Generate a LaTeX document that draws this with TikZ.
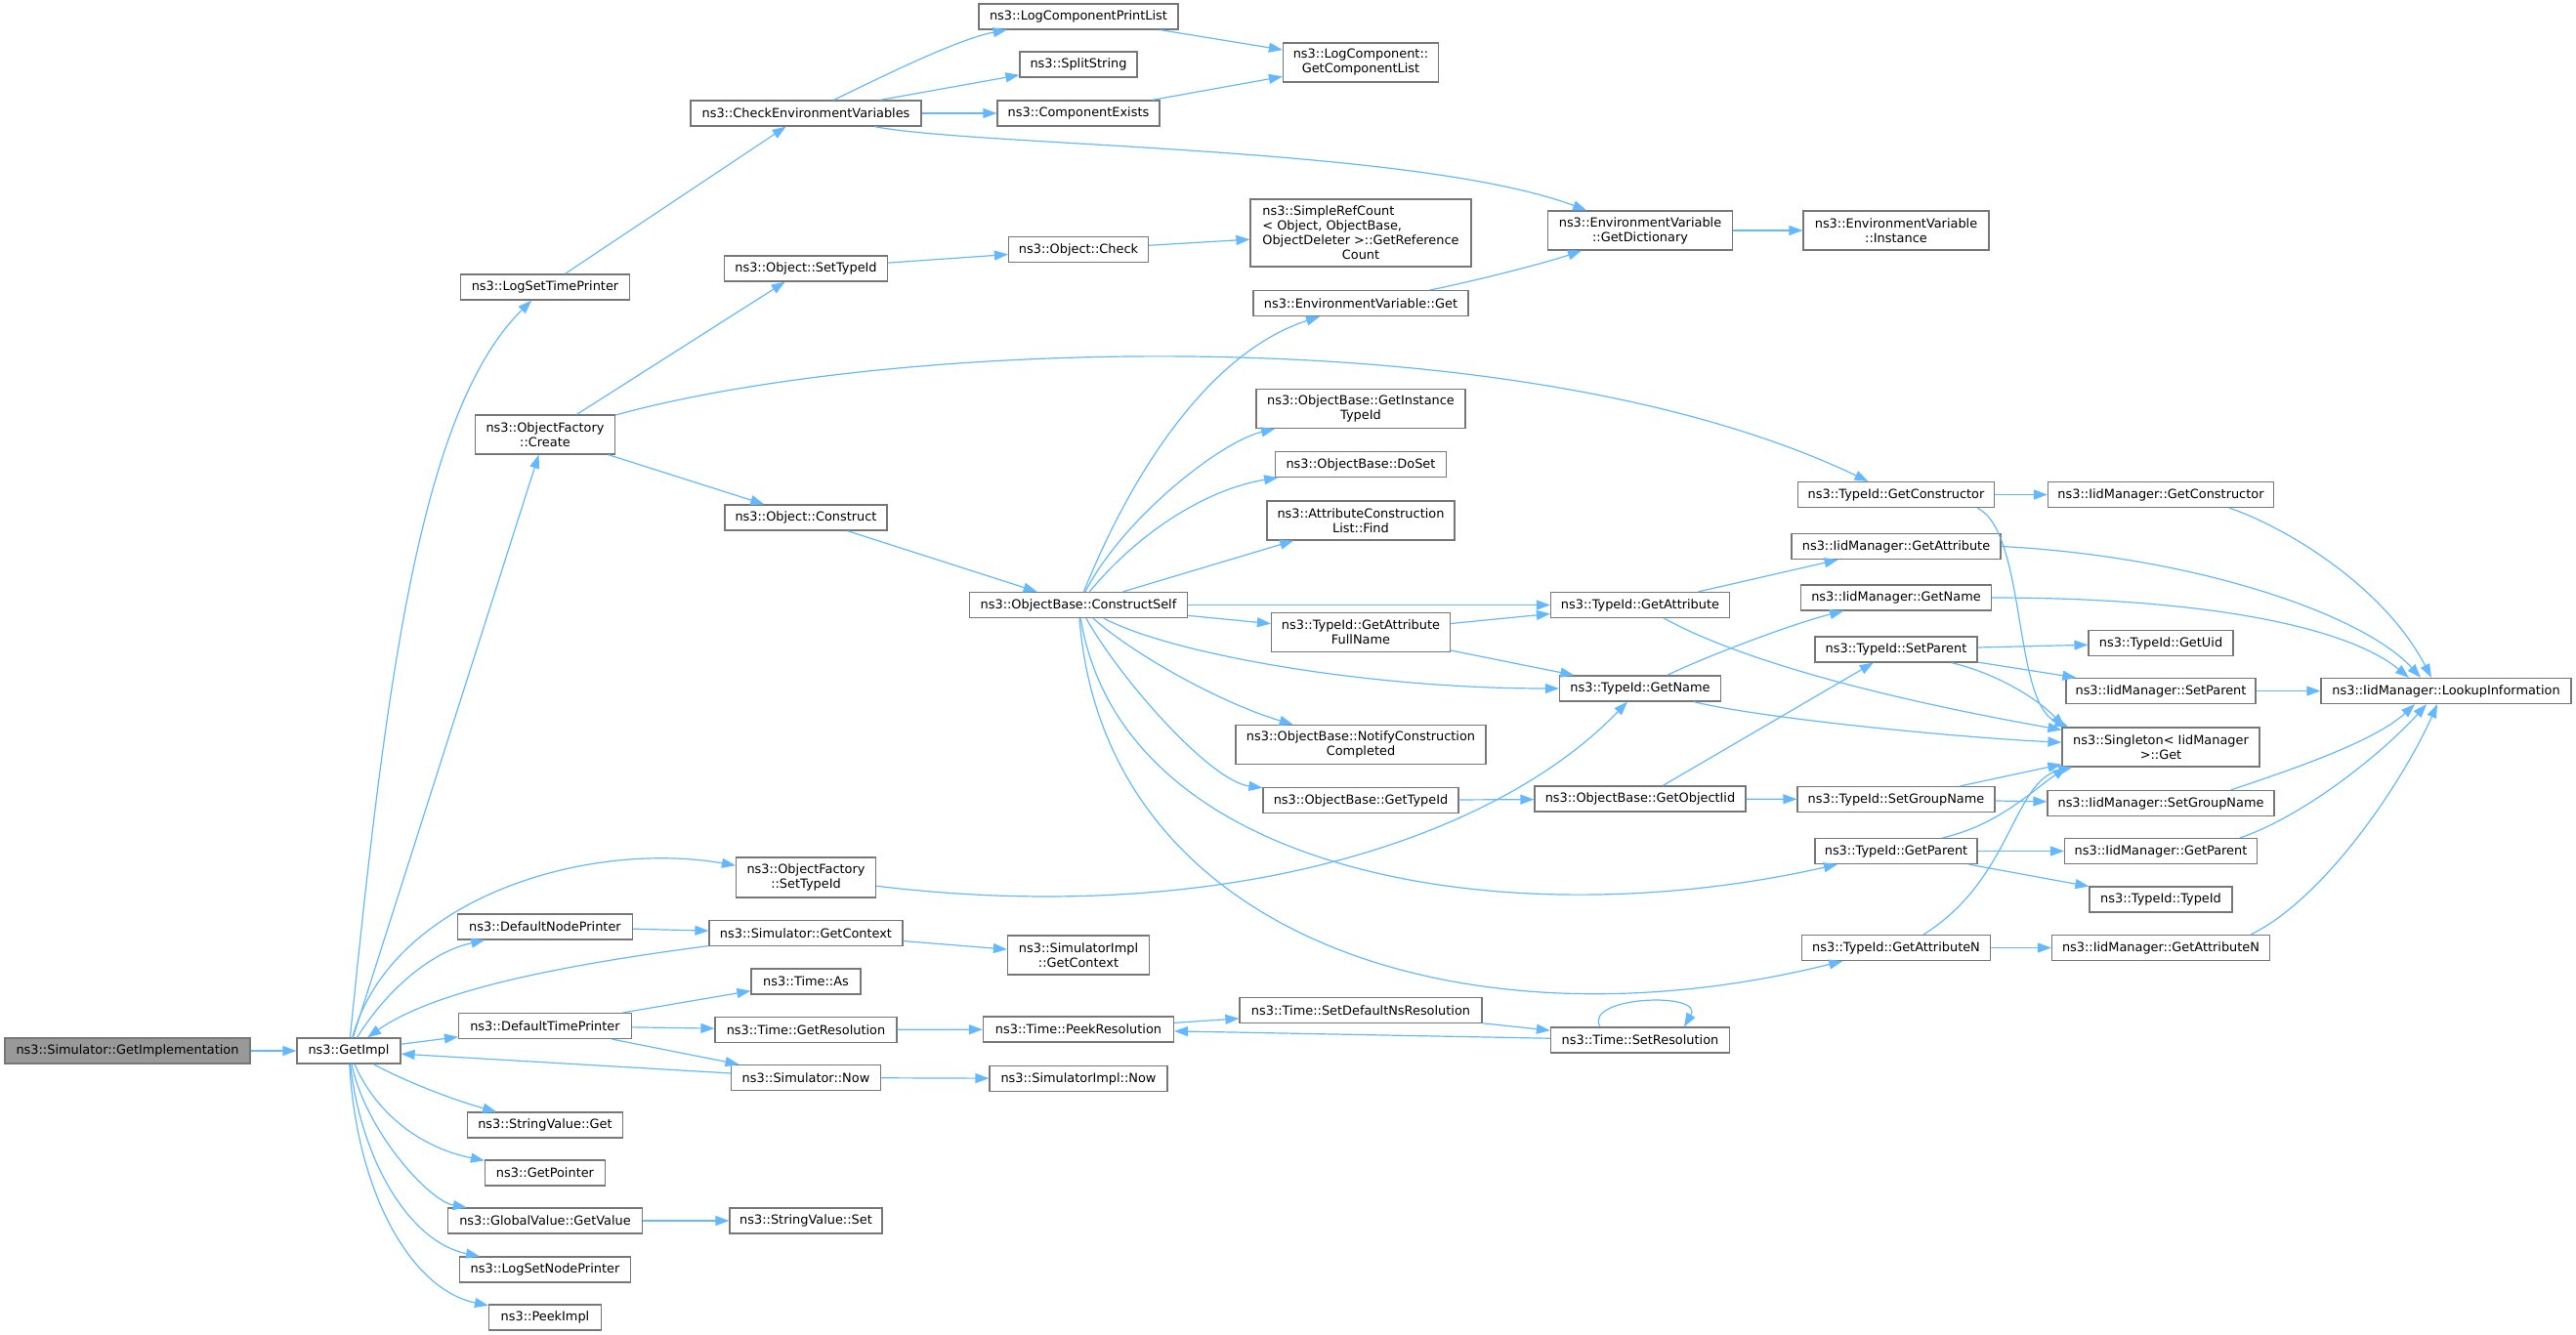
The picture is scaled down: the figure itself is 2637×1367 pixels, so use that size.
\documentclass[tikz,border=0pt]{standalone}
\usepackage{fontspec}
\setmainfont{DejaVu Sans}
\usetikzlibrary{arrows.meta}
\definecolor{edgec}{HTML}{63B8FF}
\definecolor{boxc}{HTML}{777777}
\definecolor{rootc}{HTML}{999999}
\newcommand\nfont{\fontsize{12.9}{15}\selectfont}
\newlength\srcw
\begin{document}
\settowidth{\srcw}{\nfont ObjectDeleter >::GetReference}%
\begin{tikzpicture}[x=1pt,y=-1pt,
  box/.style={draw=boxc,line width=1.2pt,fill=white,rectangle,inner sep=0pt,minimum height=26pt,align=center,font=\nfont,text=black},
  edg/.style={draw=edgec,line width=1.2pt,-{Triangle[length=14pt,width=10pt]}}]
\useasboundingbox (0,0) rectangle (2637,1367);
% column 0/1
\node[box,minimum width=251pt,fill=rootc] (root) at (130.5,1076) {ns3::Simulator::GetImplementation};
\node[box,minimum width=106pt] (getimpl) at (357,1076) {ns3::GetImpl};
% column 2
\node[box,minimum width=173pt] (lstp) at (558,294) {ns3::LogSetTimePrinter};
\node[box,minimum width=143pt,minimum height=40pt] (create) at (558,445) {ns3::ObjectFactory\\::Create};
\node[box,minimum width=179pt] (dnp) at (558,949) {ns3::DefaultNodePrinter};
\node[box,minimum width=177pt] (dtp) at (558,1050.5) {ns3::DefaultTimePrinter};
\node[box,minimum width=159pt] (svget) at (558,1152) {ns3::StringValue::Get};
\node[box,minimum width=123pt] (gptr) at (558,1201) {ns3::GetPointer};
\node[box,minimum width=199pt] (gvgv) at (558,1250) {ns3::GlobalValue::GetValue};
\node[box,minimum width=175pt] (lsnp) at (558,1300) {ns3::LogSetNodePrinter};
\node[box,minimum width=115pt] (peek) at (558,1349) {ns3::PeekImpl};
% column 3
\node[box,minimum width=236pt] (cev) at (825,116) {ns3::CheckEnvironmentVariables};
\node[box,minimum width=167pt] (osti) at (825,275) {ns3::Object::SetTypeId};
\node[box,minimum width=166pt] (ocon) at (825,530) {ns3::Object::Construct};
\node[box,minimum width=143pt,minimum height=41pt] (ofst) at (825,898.5) {ns3::ObjectFactory\\::SetTypeId};
\node[box,minimum width=198pt] (sgc) at (825,955.5) {ns3::Simulator::GetContext};
\node[box,minimum width=112pt] (tas) at (825,1005) {ns3::Time::As};
\node[box,minimum width=186pt] (tgr) at (825,1054.5) {ns3::Time::GetResolution};
\node[box,minimum width=153pt] (snow) at (825,1103.5) {ns3::Simulator::Now};
\node[box,minimum width=156pt] (svset) at (825,1250) {ns3::StringValue::Set};
% column 4
\node[box,minimum width=204pt] (lcpl) at (1104,17) {ns3::LogComponentPrintList};
\node[box,minimum width=120pt] (split) at (1104,66) {ns3::SplitString};
\node[box,minimum width=166pt] (cexists) at (1104,116) {ns3::ComponentExists};
\node[box,minimum width=143pt] (ocheck) at (1104,255.5) {ns3::Object::Check};
\node[box,minimum width=223pt] (cself) at (1104,619.5) {ns3::ObjectBase::ConstructSelf};
\node[box,minimum width=145pt,minimum height=40pt] (sigc) at (1104,978) {ns3::SimulatorImpl\\::GetContext};
\node[box,minimum width=195pt] (tpr) at (1104,1054) {ns3::Time::PeekResolution};
\node[box,minimum width=182pt] (sinow) at (1104,1104.5) {ns3::SimulatorImpl::Now};
% column 5
\node[box,minimum width=159pt,minimum height=40pt] (lcgcl) at (1393,64) {ns3::LogComponent::\\GetComponentList};
\node[box,minimum width=226pt,minimum height=69pt] (srefc) at (1393,238.5) {\makebox[\srcw][l]{ns3::SimpleRefCount}\\\makebox[\srcw][l]{< Object, ObjectBase,}\\ObjectDeleter >::GetReference\\Count};
\node[box,minimum width=220pt] (evget) at (1393,310.5) {ns3::EnvironmentVariable::Get};
\node[box,minimum width=214pt,minimum height=40pt] (obgit) at (1393,418.5) {ns3::ObjectBase::GetInstance\\TypeId};
\node[box,minimum width=175pt] (obdoset) at (1393,475.5) {ns3::ObjectBase::DoSet};
\node[box,minimum width=192pt,minimum height=40pt] (acfind) at (1393,533) {ns3::AttributeConstruction\\List::Find};
\node[box,minimum width=183pt,minimum height=40pt] (tgafn) at (1393,647.5) {ns3::TypeId::GetAttribute\\FullName};
\node[box,minimum width=256pt,minimum height=40pt] (obnotify) at (1393,762.5) {ns3::ObjectBase::NotifyConstruction\\Completed};
\node[box,minimum width=200pt] (obgtid) at (1393,819.5) {ns3::ObjectBase::GetTypeId};
\node[box,minimum width=248pt] (tsdns) at (1393,1034.5) {ns3::Time::SetDefaultNsResolution};
% column 6
\node[box,minimum width=189pt,minimum height=40pt] (evdict) at (1679,236) {ns3::EnvironmentVariable\\::GetDictionary};
\node[box,minimum width=183pt] (tgattr) at (1679,619.5) {ns3::TypeId::GetAttribute};
\node[box,minimum width=165pt] (tgname) at (1679,705) {ns3::TypeId::GetName};
\node[box,minimum width=216pt] (obgoi) at (1679,818) {ns3::ObjectBase::GetObjectIid};
\node[box,minimum width=183pt] (tsres) at (1679,1065) {ns3::Time::SetResolution};
% column 7
\node[box,minimum width=190pt,minimum height=40pt] (evinst) at (1941,236) {ns3::EnvironmentVariable\\::Instance};
\node[box,minimum width=201pt] (tgctor) at (1941,506.5) {ns3::TypeId::GetConstructor};
\node[box,minimum width=214pt] (imgattr) at (1941,559.5) {ns3::IidManager::GetAttribute};
\node[box,minimum width=195pt] (imgname) at (1941,612) {ns3::IidManager::GetName};
\node[box,minimum width=166pt] (tsetp) at (1941,665) {ns3::TypeId::SetParent};
\node[box,minimum width=202pt] (tsgn) at (1941,818.5) {ns3::TypeId::SetGroupName};
\node[box,minimum width=166pt] (tgpar) at (1941,871.5) {ns3::TypeId::GetParent};
\node[box,minimum width=193pt] (tgattrn) at (1941,970.5) {ns3::TypeId::GetAttributeN};
% column 8
\node[box,minimum width=231pt] (imgctor) at (2212,506.5) {ns3::IidManager::GetConstructor};
\node[box,minimum width=148pt] (tguid) at (2212,658.5) {ns3::TypeId::GetUid};
\node[box,minimum width=194pt] (imsetp) at (2212,707.5) {ns3::IidManager::SetParent};
\node[box,minimum width=202pt,minimum height=40pt] (single) at (2212,765) {ns3::Singleton< IidManager\\>::Get};
\node[box,minimum width=232pt] (imsgn) at (2212,822.5) {ns3::IidManager::SetGroupName};
\node[box,minimum width=197pt] (imgpar) at (2212,871.5) {ns3::IidManager::GetParent};
\node[box,minimum width=146pt] (ttid) at (2212,921) {ns3::TypeId::TypeId};
\node[box,minimum width=223pt] (imgattrn) at (2212,970.5) {ns3::IidManager::GetAttributeN};
% column 9
\node[box,minimum width=256pt] (lookup) at (2504,707.5) {ns3::IidManager::LookupInformation};
% ---------------- edges
\draw[edg] (root) -- (getimpl);
\draw[edg] (getimpl) .. controls (395,700) and (430,420) .. (lstp);
\draw[edg] (getimpl) -- (create);
\draw[edg] (getimpl) .. controls (400,920) and (600,860) .. (ofst);
\draw[edg] (getimpl) .. controls (395,1015) and (440,975) .. (dnp);
\draw[edg] (sgc) .. controls (600,985) and (450,1010) .. (getimpl);
\draw[edg] (getimpl) -- (dtp);
\draw[edg] (snow) -- (getimpl);
\draw[edg] (getimpl) .. controls (420,1110) and (470,1128) .. (svget);
\draw[edg] (getimpl) .. controls (385,1140) and (430,1175) .. (gptr);
\draw[edg] (getimpl) .. controls (375,1160) and (440,1230) .. (gvgv);
\draw[edg] (getimpl) .. controls (370,1190) and (420,1272) .. (lsnp);
\draw[edg] (getimpl) .. controls (365,1220) and (420,1320) .. (peek);
\draw[edg] (lstp) -- (cev);
\draw[edg] (cev) .. controls (900,80) and (980,40) .. (lcpl);
\draw[edg] (cev) -- (split);
\draw[edg] (cev) -- (cexists);
\draw[edg] (cev) .. controls (1000,150) and (1450,150) .. (evdict);
\draw[edg] (lcpl) -- (lcgcl);
\draw[edg] (cexists) -- (lcgcl);
\draw[edg] (evdict) -- (evinst);
\draw[edg] (create) -- (osti);
\draw[edg] (create) .. controls (900,350) and (1550,320) .. (tgctor);
\draw[edg] (create) -- (ocon);
\draw[edg] (osti) -- (ocheck);
\draw[edg] (ocheck) -- (srefc);
\draw[edg] (ocon) -- (cself);
\draw[edg] (cself) .. controls (1160,480) and (1240,360) .. (evget);
\draw[edg] (cself) .. controls (1150,530) and (1250,452) .. (obgit);
\draw[edg] (cself) .. controls (1170,540) and (1240,500) .. (obdoset);
\draw[edg] (cself) -- (acfind);
\draw[edg] (cself) -- (tgattr);
\draw[edg] (cself) -- (tgafn);
\draw[edg] (cself) .. controls (1200,670) and (1400,705) .. (tgname);
\draw[edg] (cself) .. controls (1160,670) and (1250,720) .. (obnotify);
\draw[edg] (cself) .. controls (1150,700) and (1240,800) .. (obgtid);
\draw[edg] (cself) .. controls (1150,900) and (1550,960) .. (tgpar);
\draw[edg] (cself) .. controls (1130,960) and (1500,1080) .. (tgattrn);
\draw[edg] (tgafn) -- (tgattr);
\draw[edg] (tgafn) -- (tgname);
\draw[edg] (evget) .. controls (1500,290) and (1580,270) .. (evdict);
\draw[edg] (tgattr) -- (imgattr);
\draw[edg] (tgattr) .. controls (1770,670) and (1900,710) .. ([yshift=-3pt]single.north west);
\draw[edg] (tgname) .. controls (1740,675) and (1830,640) .. (imgname);
\draw[edg] (tgname) .. controls (1800,735) and (2000,755) .. (single);
\draw[edg] (obgtid) -- (obgoi);
\draw[edg] (ofst) .. controls (1250,950) and (1530,860) .. (tgname);
\draw[edg] (obgoi) -- (tsetp);
\draw[edg] (obgoi) -- (tsgn);
\draw[edg] (tgctor) -- (imgctor);
\draw[edg] ([xshift=-18pt]tgctor.south east) .. controls (2075,545) and (2060,720) .. ([xshift=7pt]single.north west);
\draw[edg] ([xshift=-46pt]imgctor.south east) .. controls (2340,540) and (2440,600) .. ([xshift=-15pt]lookup.north);
\draw[edg] (imgattr.east) .. controls (2250,570) and (2420,630) .. ([xshift=-26pt]lookup.north);
\draw[edg] (imgname.east) .. controls (2250,612) and (2400,640) .. ([xshift=-38pt]lookup.north);
\draw[edg] (tsetp) -- (tguid);
\draw[edg] (tsetp) -- (imsetp);
\draw[edg] ([xshift=-27pt]tsetp.south east) .. controls (2045,690) and (2085,715) .. ([xshift=3pt]single.north west);
\draw[edg] (imsetp) -- (lookup);
\draw[edg] ([xshift=-36pt]tsgn.north east) -- ([yshift=3pt]single.south west);
\draw[edg] (tsgn) -- (imsgn);
\draw[edg] ([xshift=-45pt]imsgn.north east) .. controls (2340,790) and (2430,760) .. ([xshift=-32pt]lookup.south);
\draw[edg] ([xshift=-36pt]tgpar.north east) .. controls (2045,845) and (2080,810) .. ([xshift=5pt]single.south west);
\draw[edg] (tgpar) -- (imgpar);
\draw[edg] (tgpar) -- (ttid);
\draw[edg] ([xshift=-18pt]imgpar.north east) .. controls (2360,835) and (2440,770) .. ([xshift=-20pt]lookup.south);
\draw[edg] ([xshift=-69pt]tgattrn.north east) .. controls (2060,900) and (2060,800) .. ([xshift=11pt]single.south west);
\draw[edg] (tgattrn) -- (imgattrn);
\draw[edg] ([xshift=-20pt]imgattrn.north east) .. controls (2380,920) and (2460,800) .. ([xshift=-9pt]lookup.south);
\draw[edg] (dnp) -- (sgc);
\draw[edg] (sgc) -- (sigc);
\draw[edg] (dtp) -- (tas);
\draw[edg] (dtp) -- (tgr);
\draw[edg] (dtp) -- (snow);
\draw[edg] (tgr) -- (tpr);
\draw[edg] (snow) -- (sinow);
\draw[edg] (gvgv) -- (svset);
\draw[edg] (tpr) -- (tsdns);
\draw[edg] (tsdns) -- (tsres);
\draw[edg] (tsres) -- (tpr);
\draw[edg] ([xshift=-41pt]tsres.north) .. controls (1620,1020) and (1745,1015) .. ([xshift=45pt]tsres.north);
\end{tikzpicture}
\end{document}
